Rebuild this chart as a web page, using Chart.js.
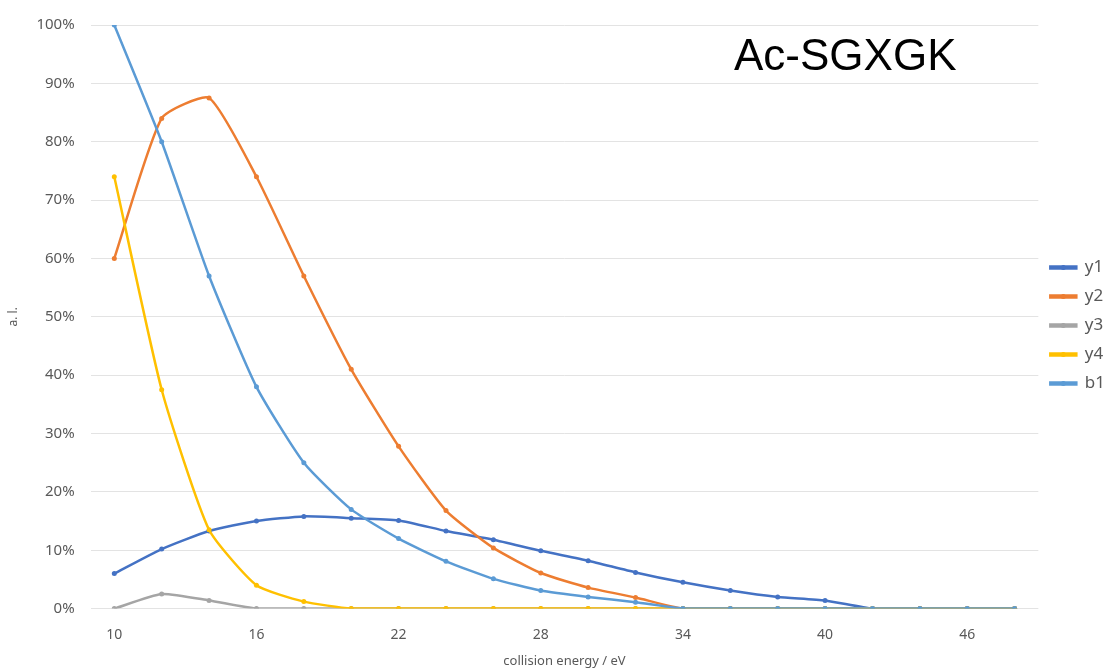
<!DOCTYPE html>
<html>
<head>
<meta charset="utf-8">
<script src="https://cdn.jsdelivr.net/npm/chart.js@4.4.1/dist/chart.umd.min.js"></script>
<style>
  html, body { margin: 0; padding: 0; background: #ffffff; }
  #wrap { width: 1115px; height: 669px; position: relative; }
</style>
</head>
<body>
<div id="wrap"><canvas id="c"></canvas></div>
<script>
// ---- data ----
const energies = [10,12,14,16,18,20,22,24,26,28,30,32,34,36,38,40,42,44,46,48];
const y1 = [6,10.2,13.3,15,15.8,15.5,15.1,13.3,11.8,9.9,8.2,6.2,4.5,3.1,2.0,1.4,0,0,0,0];
const y2 = [60,84,87.5,74,57,41,27.8,16.8,10.4,6.1,3.6,1.9,0,0,0,0,0,0,0,0];
const y3 = [0,2.5,1.4,0,0,0,0,0,0,0,0,0,0,0,0,0,0,0,0,0];
const y4 = [74,37.5,13.5,4,1.2,0,0,0,0,0,0,0,0,0,0,0,0,0,0,0];
const b1 = [100,80,57,38,25,17,12,8.1,5.1,3.1,2.0,1.1,0,0,0,0,0,0,0,0];
const seriesNames = ['y1','y2','y3','y4','b1'];
const seriesColors = ['#4472C4','#ED7D31','#A5A5A5','#FFC000','#5B9BD5'];
const chartTitle = 'Ac-SGXGK';
const xTitle = 'collision energy / eV';
const yTitle = 'a. l.';

const seriesData = [y1, y2, y3, y4, b1];
const datasets = seriesData.map((d, i) => ({
  label: seriesNames[i],
  data: d,
  borderColor: seriesColors[i],
  backgroundColor: seriesColors[i],
  borderWidth: 2.5,
  pointRadius: 2.5,
  pointHoverRadius: 3,
  pointBorderWidth: 0,
  tension: 0.18,
  order: seriesData.length - i
}));

const textGray = '#595959';
const LEGEND_SHIFT = -12;

const titlePlugin = {
  id: 'insideTitle',
  afterDraw(chart) {
    const ctx = chart.ctx;
    ctx.save();
    ctx.font = '44px "Liberation Sans", Arial, sans-serif';
    ctx.fillStyle = '#000000';
    ctx.textAlign = 'left';
    ctx.textBaseline = 'alphabetic';
    ctx.fillText(chartTitle, 734, 70);
    ctx.restore();
  }
};

const legendShift = {
  id: 'legendShift',
  afterLayout(chart) {
    const lg = chart.legend;
    if (!lg) return;
    lg.top += LEGEND_SHIFT;
    lg.bottom += LEGEND_SHIFT;
    if (lg.legendHitBoxes) lg.legendHitBoxes.forEach(hb => { hb.top += LEGEND_SHIFT; });
  }
};

const legendDots = {
  id: 'legendDots',
  afterDraw(chart) {
    const lg = chart.legend;
    if (!lg || !lg.legendHitBoxes || !lg.legendItems) return;
    const ctx = chart.ctx;
    ctx.save();
    lg.legendHitBoxes.forEach((hb, i) => {
      const item = lg.legendItems[i];
      const bw = lg.options.labels.boxWidth;
      const cx = hb.left + bw / 2;
      const cy = hb.top + hb.height / 2;
      ctx.fillStyle = seriesColors[item.datasetIndex];
      ctx.beginPath();
      ctx.arc(cx, cy, 2.5, 0, Math.PI * 2);
      ctx.fill();
    });
    ctx.restore();
  }
};

new Chart(document.getElementById('c'), {
  type: 'line',
  data: { labels: energies.map(String), datasets },
  options: {
    responsive: true,
    maintainAspectRatio: false,
    animation: false,
    layout: { padding: { top: 6, right: 0, left: 6, bottom: 0 } },
    plugins: {
      legend: {
        position: 'right',
        align: 'center',
        labels: {
          boxWidth: 26,
          boxHeight: 2,
          padding: 12,
          color: textGray,
          sort: (a, b) => a.datasetIndex - b.datasetIndex,
          font: { family: '"Noto Sans", sans-serif', size: 17 }
        }
      },
      tooltip: { enabled: false }
    },
    scales: {
      x: {
        type: 'category',
        offset: true,
        grid: { display: false, drawTicks: false },
        border: { display: false },
        ticks: {
          autoSkip: false,
          maxRotation: 0,
          color: textGray,
          padding: 18,
          font: { family: '"Noto Sans", sans-serif', size: 14 },
          callback(v, i) { return i % 3 === 0 ? energies[i] : ''; }
        },
        title: {
          display: true,
          text: xTitle,
          color: textGray,
          padding: { top: -8, bottom: 0 },
          font: { family: '"Noto Sans", sans-serif', size: 13 }
        }
      },
      y: {
        min: 0,
        max: 100,
        grid: { color: '#e3e3e3', lineWidth: 1, drawTicks: false },
        border: { display: false },
        ticks: {
          stepSize: 10,
          color: textGray,
          padding: 16,
          font: { family: '"Noto Sans", sans-serif', size: 15 },
          callback(v) { return v + '%'; }
        },
        title: {
          display: true,
          text: yTitle,
          color: textGray,
          padding: { top: 0, bottom: 0 },
          font: { family: '"Noto Sans", sans-serif', size: 12 }
        }
      }
    }
  },
  plugins: [titlePlugin, legendShift, legendDots]
});
</script>
</body>
</html>
